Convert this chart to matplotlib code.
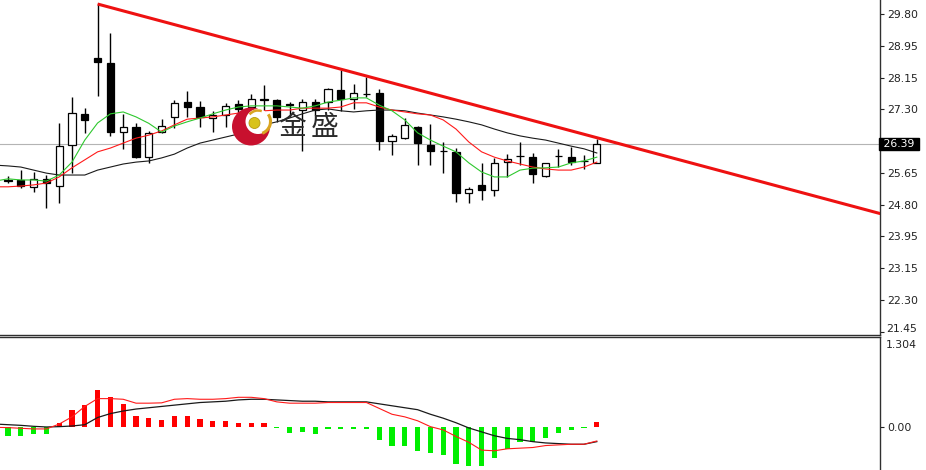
import numpy as np
import matplotlib
matplotlib.use("Agg")
import matplotlib.pyplot as plt
from matplotlib.patches import Rectangle, Circle, Arc
from matplotlib.transforms import IdentityTransform, blended_transform_factory

plt.rcParams['font.family'] = ['DejaVu Sans', 'Noto Sans CJK SC']

# ---------------- data ----------------
opens  = [25.44, 25.44, 25.26, 25.47, 25.28, 26.36, 27.18, 28.65, 28.52, 26.70,
          26.83, 26.04, 26.70, 27.10, 27.49, 27.36, 27.07, 27.15, 27.44, 27.36,
          27.57, 27.54, 27.44, 27.28, 27.49, 27.49, 27.81, 27.57, 27.71, 27.73,
          26.47, 26.55, 26.83, 26.36, 26.21, 26.18, 25.10, 25.31, 25.18, 25.91,
          26.07, 26.04, 25.54, 26.07, 26.04, 25.94, 25.89]
highs  = [25.54, 25.70, 25.65, 25.57, 26.94, 27.62, 27.33, 30.07, 29.31, 27.18,
          26.94, 26.73, 27.04, 27.54, 27.78, 27.52, 27.26, 27.47, 27.54, 27.70,
          27.94, 27.57, 27.49, 27.57, 27.57, 27.86, 28.33, 27.97, 28.15, 27.83,
          26.65, 27.07, 26.86, 26.91, 26.44, 26.28, 25.26, 25.89, 26.02, 26.12,
          26.44, 26.15, 25.89, 26.25, 26.31, 26.10, 26.52]
lows   = [25.36, 25.23, 25.12, 24.70, 24.83, 25.62, 26.68, 27.65, 26.60, 26.26,
          26.02, 25.89, 26.68, 26.81, 27.10, 26.83, 26.70, 26.83, 27.07, 26.89,
          26.89, 26.96, 27.10, 26.20, 27.15, 27.28, 27.26, 27.31, 27.62, 26.23,
          26.10, 26.52, 25.84, 25.84, 25.62, 24.86, 24.83, 24.91, 25.02, 25.52,
          25.84, 25.36, 25.52, 25.78, 25.84, 25.73, 25.89]
closes = [25.41, 25.28, 25.47, 25.36, 26.33, 27.20, 27.02, 28.54, 26.70, 26.83,
          26.04, 26.68, 26.86, 27.47, 27.36, 27.10, 27.15, 27.39, 27.31, 27.57,
          27.55, 27.10, 27.42, 27.49, 27.28, 27.83, 27.57, 27.73, 27.70, 26.47,
          26.60, 26.89, 26.41, 26.20, 26.20, 25.10, 25.20, 25.18, 25.89, 25.99,
          26.06, 25.60, 25.89, 26.06, 25.91, 25.93, 26.39]

# moving averages, first value belongs to the bar before the first visible candle
ma_fast = [25.41, 25.47, 25.44, 25.44, 25.41, 25.57, 25.91, 26.49, 26.94, 27.18,
           27.23, 27.10, 26.93, 26.70, 26.86, 26.97, 27.07, 27.18, 27.28, 27.36,
           27.39, 27.39, 27.39, 27.36, 27.33, 27.39, 27.49, 27.54, 27.60, 27.60,
           27.41, 27.26, 27.02, 26.68, 26.49, 26.33, 26.18, 25.89, 25.65, 25.52,
           25.52, 25.70, 25.75, 25.76, 25.78, 25.89, 25.94, 26.04]
ma_mid  = [25.26, 25.26, 25.28, 25.31, 25.36, 25.52, 25.76, 25.97, 26.18, 26.28,
           26.41, 26.54, 26.62, 26.73, 26.89, 27.04, 27.07, 27.10, 27.15, 27.20,
           27.23, 27.26, 27.28, 27.28, 27.33, 27.33, 27.33, 27.36, 27.47, 27.47,
           27.36, 27.28, 27.23, 27.18, 27.15, 27.02, 26.78, 26.44, 26.18, 26.04,
           25.94, 25.86, 25.78, 25.73, 25.70, 25.70, 25.78, 25.91]
ma_slow = [25.83, 25.81, 25.78, 25.70, 25.62, 25.57, 25.57, 25.57, 25.70, 25.78,
           25.86, 25.91, 25.94, 26.02, 26.12, 26.28, 26.41, 26.49, 26.57, 26.65,
           26.78, 26.89, 26.97, 27.07, 27.18, 27.28, 27.31, 27.26, 27.23, 27.26,
           27.28, 27.28, 27.26, 27.20, 27.15, 27.10, 27.04, 26.97, 26.89, 26.78,
           26.68, 26.60, 26.54, 26.49, 26.41, 26.33, 26.26, 26.15]

trend_x = [7, 68.2]
trend_y = [30.07, 24.55]
last_price = 26.39

macd_hist = [-0.13, -0.14, -0.10, -0.10, 0.06, 0.26, 0.34, 0.57, 0.46, 0.35,
             0.18, 0.14, 0.11, 0.17, 0.18, 0.13, 0.09, 0.09, 0.07, 0.07,
             0.07, -0.01, -0.08, -0.07, -0.11, -0.02, -0.02, -0.02, -0.02, -0.20,
             -0.29, -0.29, -0.36, -0.40, -0.43, -0.57, -0.60, -0.60, -0.47, -0.33,
             -0.23, -0.23, -0.17, -0.09, -0.04, -0.01, 0.08]
macd_fast = [0.00, -0.005, -0.015, -0.025, -0.025, 0.05, 0.16, 0.32, 0.44, 0.44,
             0.43, 0.37, 0.37, 0.375, 0.43, 0.44, 0.43, 0.43, 0.44, 0.46,
             0.46, 0.44, 0.39, 0.37, 0.37, 0.37, 0.38, 0.38, 0.38, 0.38,
             0.29, 0.20, 0.16, 0.10, 0.01, -0.04, -0.14, -0.23, -0.35, -0.36,
             -0.33, -0.32, -0.31, -0.28, -0.27, -0.26, -0.26, -0.21]
macd_signal = [0.05, 0.04, 0.03, 0.015, 0.005, 0.01, 0.02, 0.04, 0.15, 0.21,
               0.25, 0.28, 0.30, 0.32, 0.34, 0.36, 0.38, 0.39, 0.40, 0.42,
               0.43, 0.43, 0.42, 0.41, 0.40, 0.40, 0.39, 0.39, 0.39, 0.39,
               0.36, 0.33, 0.30, 0.27, 0.20, 0.14, 0.07, -0.01, -0.07, -0.13,
               -0.17, -0.19, -0.22, -0.24, -0.25, -0.26, -0.26, -0.22]

price_tick_labels = ["29.80", "28.95", "28.15", "27.30", "", "25.65",
                     "24.80", "23.95", "23.15", "22.30", "21.45"]
macd_tick_values = [1.304, 0.0]
macd_tick_labels = ["1.304", "0.00"]

# ---------------- figure ----------------
W, H = 926, 470
fig = plt.figure(figsize=(W / 100, H / 100), dpi=100)
fig.patch.set_facecolor('white')

ax = fig.add_axes([0, 1 - 335 / H, 880 / W, 335 / H])
ax2 = fig.add_axes([0, 0, 880 / W, 133 / H])

n = len(opens)
x = np.arange(n)
ma_x = np.arange(-1, n)
FS = 7.8
TXT = '#222222'

# current price line
ax.axhline(last_price, color='#b4b4b4', lw=0.8, zorder=1)

# candles
bw = 0.55
for i in range(n):
    o, h, l, c = opens[i], highs[i], lows[i], closes[i]
    ax.vlines(x[i], l, h, color='black', lw=1.0, zorder=2)
    bottom = min(o, c)
    height = max(abs(c - o), 0.015)
    fc = 'white' if c >= o else 'black'
    ax.add_patch(Rectangle((x[i] - bw / 2, bottom), bw, height, facecolor=fc,
                           edgecolor='black', lw=0.9, zorder=3))

# moving averages
ax.plot(ma_x, ma_slow, color='#1a1a1a', lw=0.8, zorder=4)
ax.plot(ma_x, ma_mid, color='#ff1a1a', lw=0.8, zorder=4)
ax.plot(ma_x, ma_fast, color='#2ec82e', lw=0.8, zorder=4)

# trend line
ax.plot(trend_x, trend_y, color='#ee1111', lw=2.2, solid_capstyle='butt', zorder=5)

x_left = -8 / 12.8
x_right = (880 - 8) / 12.8
ax.set_xlim(x_left, x_right)
ax.set_ylim(30.176 - 335 / 38.0, 30.176)

ax.yaxis.tick_right()
ax.set_xticks([])
ptick_pos = np.linspace(29.80, 21.45, len(price_tick_labels))
ax.set_yticks(ptick_pos)
# the bottom label is drawn separately (nudged up) so it does not collide with the MACD label
ax.set_yticklabels(price_tick_labels[:-1] + [""])
ax.tick_params(axis='y', direction='out', length=3, width=0.8, pad=2,
               labelsize=FS, colors=TXT)
for s in ['top', 'left']:
    ax.spines[s].set_visible(False)
for s in ['right', 'bottom']:
    ax.spines[s].set_color('#303030')
    ax.spines[s].set_linewidth(1.0)

idt = IdentityTransform()
fig.text(886 / W, 1 - 329.5 / H, price_tick_labels[-1], ha='left', va='center',
         fontsize=FS, color=TXT)

# last price label
tr = blended_transform_factory(ax.transAxes, ax.transData)
ax.text(1.0, last_price, ' ' + f"{last_price:.2f}" + ' ', transform=tr,
        ha='left', va='center', color='white', fontsize=FS,
        bbox=dict(boxstyle='square,pad=0.08', fc='black', ec='black'),
        clip_on=False, zorder=10)

# watermark logo
cx, cy = 251, H - 126.5
ax.add_patch(Circle((cx, cy), 19, transform=idt, fc='#c8102e', ec='none', zorder=6))
ax.add_patch(Circle((cx + 7, cy + 5), 12.5, transform=idt, fc='white', ec='none', zorder=7))
ax.add_patch(Arc((cx + 7, cy + 5), 25, 25, theta1=-70, theta2=35, transform=idt,
                 color='#d9a521', lw=2.2, zorder=8))
ax.add_patch(Arc((cx + 7, cy + 5), 22, 22, theta1=70, theta2=140, transform=idt,
                 color='#d9a521', lw=1.8, zorder=8))
ax.add_patch(Circle((cx + 3.5, cy + 3.5), 5.5, transform=idt, fc='#d8c21a',
                    ec='#b89a10', lw=0.6, zorder=9))
ax.text(292, H - 127, "金", transform=idt, fontsize=20, ha='center', va='center',
        color='#2b2b2b', family=['Noto Sans CJK SC', 'DejaVu Sans'], zorder=9)
ax.text(325, H - 127, "盛", transform=idt, fontsize=20, ha='center', va='center',
        color='#2b2b2b', family=['Noto Sans CJK SC', 'DejaVu Sans'], zorder=9)

# ---------------- MACD panel ----------------
cols = ['#ff0000' if v > 0 else '#00ee00' for v in macd_hist]
ax2.bar(x, macd_hist, width=0.4, color=cols, zorder=2)
ax2.plot(ma_x, macd_signal, color='#1a1a1a', lw=0.9, zorder=3)
ax2.plot(ma_x, macd_fast, color='#ff1a1a', lw=0.8, zorder=3)
ax2.set_xlim(x_left, x_right)
ax2.set_ylim((427.3 - 470) / 65.2, (427.3 - 337) / 65.2)
ax2.yaxis.tick_right()
ax2.set_xticks([])
ax2.set_yticks(macd_tick_values[1:])
ax2.set_yticklabels(macd_tick_labels[1:])
ax2.tick_params(axis='y', direction='out', length=3, width=0.8, pad=2,
                labelsize=FS, colors=TXT)
fig.text(886 / W, 1 - 344.5 / H, macd_tick_labels[0], ha='left', va='center',
         fontsize=FS, color=TXT)
for s in ['bottom', 'left']:
    ax2.spines[s].set_visible(False)
for s in ['right', 'top']:
    ax2.spines[s].set_color('#303030')
    ax2.spines[s].set_linewidth(1.0)

fig.savefig('out.png', dpi=100, facecolor='white')
